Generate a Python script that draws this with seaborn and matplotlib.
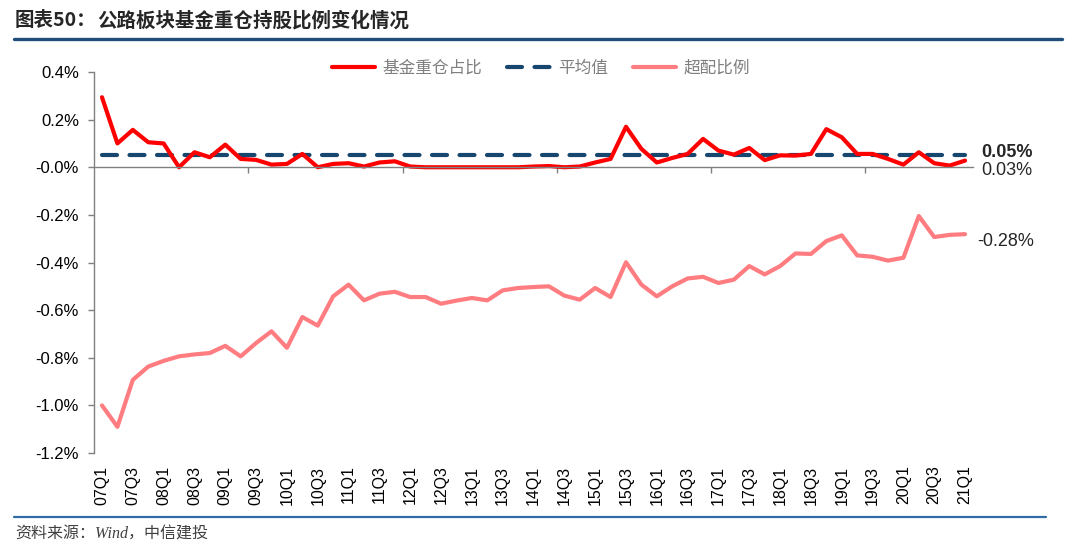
import numpy as np
import pandas as pd
import matplotlib
matplotlib.use("Agg")
import matplotlib.pyplot as plt
from matplotlib.lines import Line2D
import seaborn as sns

sns.set_theme(style="white")
plt.rcParams["font.family"] = ["Liberation Sans", "Noto Sans CJK SC", "DejaVu Sans"]
plt.rcParams["axes.unicode_minus"] = False

# quarters 07Q1 .. 21Q1
quarters = [f"{y:02d}Q{q}" for y in range(7, 22) for q in range(1, 5)][:57]

# fund heavy holding share (%)
holding = [0.294, 0.100, 0.157, 0.105, 0.100, 0.000, 0.063, 0.042, 0.095, 0.035,
           0.031, 0.011, 0.014, 0.056, 0.000, 0.014, 0.017, 0.003, 0.020, 0.025,
           0.003, 0.000, 0.000, 0.000, 0.000, 0.000, 0.000, 0.000, 0.003, 0.005,
           0.000, 0.003, 0.020, 0.035, 0.170, 0.077, 0.020, 0.039, 0.056, 0.119,
           0.070, 0.053, 0.081, 0.030, 0.050, 0.049, 0.056, 0.160, 0.126, 0.056,
           0.056, 0.035, 0.011, 0.063, 0.017, 0.007, 0.028]

# over-weight ratio (%)
overweight = [-1.000, -1.090, -0.893, -0.837, -0.813, -0.794, -0.786, -0.780, -0.750, -0.794,
              -0.738, -0.689, -0.758, -0.629, -0.665, -0.542, -0.493, -0.559, -0.531, -0.523,
              -0.545, -0.545, -0.573, -0.560, -0.549, -0.559, -0.517, -0.507, -0.503, -0.500,
              -0.539, -0.556, -0.507, -0.545, -0.399, -0.493, -0.542, -0.500, -0.467, -0.460,
              -0.486, -0.472, -0.415, -0.450, -0.415, -0.362, -0.364, -0.310, -0.286, -0.370,
              -0.376, -0.392, -0.380, -0.205, -0.293, -0.284, -0.281]

avg_value = 0.05

df = pd.DataFrame({"idx": np.arange(len(quarters)), "quarter": quarters,
                   "holding": holding, "overweight": overweight})
df["avg"] = avg_value

fig = plt.figure(figsize=(10.8, 5.53), dpi=100)
ax = fig.add_axes([0.0873, 0.1808, 0.8134, 0.689])

red = "#FF0000"
navy = "#17476F"
pink = "#FF7C80"

sns.lineplot(data=df, x="idx", y="overweight", ax=ax, color=pink, lw=3,
             solid_joinstyle="round", solid_capstyle="round", label="超配比例", legend=False)
sns.lineplot(data=df, x="idx", y="avg", ax=ax, color=navy, lw=3,
             dashes=False, label="平均值", legend=False)
ax.lines[-1].set_dashes((3.6, 3.0))
ax.lines[-1].set_dash_capstyle("round")
sns.lineplot(data=df, x="idx", y="holding", ax=ax, color=red, lw=3,
             solid_joinstyle="round", solid_capstyle="round", label="基金重仓占比", legend=False)

ax.set_xlim(-0.5, len(quarters) - 0.5)
ax.set_ylim(-1.2, 0.4)
ax.set_xlabel("")
ax.set_ylabel("")

# y axis
yt = np.arange(-1.2, 0.41, 0.2)
ax.set_yticks(yt)
ax.set_yticklabels([f"{v:.1f}%" for v in yt], fontsize=12, color="#000000")
ax.tick_params(axis="y", direction="out", length=4, width=1, color="#808080", pad=7, left=True)
ax.spines["left"].set_color("#808080")
ax.spines["left"].set_linewidth(1)
for s in ["top", "right"]:
    ax.spines[s].set_visible(False)

# category axis crossing at zero, tick marks every 10 categories
ax.spines["bottom"].set_position(("data", 0))
ax.spines["bottom"].set_color("#808080")
ax.spines["bottom"].set_linewidth(1)
ax.set_xticks([9.5, 19.5, 29.5, 39.5, 49.5])
ax.set_xticklabels([])
ax.tick_params(axis="x", direction="out", length=4, width=1, color="#808080", bottom=True)

# labels at the low position
sec = ax.secondary_xaxis(0)
sec.set_xticks(df["idx"][::2])
sec.set_xticklabels(df["quarter"][::2], rotation=90, fontsize=11.5, color="#000000")
sec.tick_params(length=0, pad=9)
sec.spines["bottom"].set_visible(False)

# end labels
ax.annotate("0.05%", xy=(56, avg_value), xytext=(11.5, 2), textcoords="offset points",
            fontsize=13, fontweight="bold", va="center", ha="left")
ax.annotate(f"{holding[-1]:.2f}%", xy=(56, holding[-1]), xytext=(11.5, -7),
            textcoords="offset points", fontsize=13, va="center", ha="left")
ax.annotate(f"{overweight[-1]:.2f}%", xy=(56, overweight[-1]), xytext=(9, -5),
            textcoords="offset points", fontsize=13, va="center", ha="left")

# legend
handles = [Line2D([0], [0], color=red, lw=3),
           Line2D([0], [0], color=navy, lw=3, dashes=(3.6, 3.0), dash_capstyle="round"),
           Line2D([0], [0], color=pink, lw=3)]
fig.legend(handles, ["基金重仓占比", "平均值", "超配比例"], loc="center",
           bbox_to_anchor=(541 / 1080, 1 - 68 / 553), ncol=3, frameon=False, fontsize=12,
           labelcolor="#7F7F7F", handlelength=2.6, columnspacing=1.5, handletextpad=0.45)

# title, rules and source
fig.text(15 / 1080, 1 - 21 / 553, "图表50：", fontsize=14, fontweight="bold",
         va="center", ha="left", family=["Noto Sans CJK SC"])
fig.text(97 / 1080, 1 - 21 / 553, "公路板块基金重仓持股比例变化情况", fontsize=14,
         fontweight="bold", va="center", ha="left", family=["Noto Sans CJK SC"])
fig.add_artist(Line2D([14 / 1080, 1062 / 1080], [1 - 39 / 553] * 2,
                      transform=fig.transFigure, color="#1F4E79", lw=2.4))
fig.add_artist(Line2D([14 / 1080, 1046 / 1080], [1 - 517 / 553] * 2,
                      transform=fig.transFigure, color="#2E6DA4", lw=1.6))
fig.text(15 / 1080, 1 - 535 / 553, "资料来源：Wind，中信建投", fontsize=11.5, style="italic",
         color="#404040", va="center", ha="left",
         family=["Liberation Serif", "Noto Sans CJK SC"])

fig.savefig("out.png", dpi=100, facecolor="white")
